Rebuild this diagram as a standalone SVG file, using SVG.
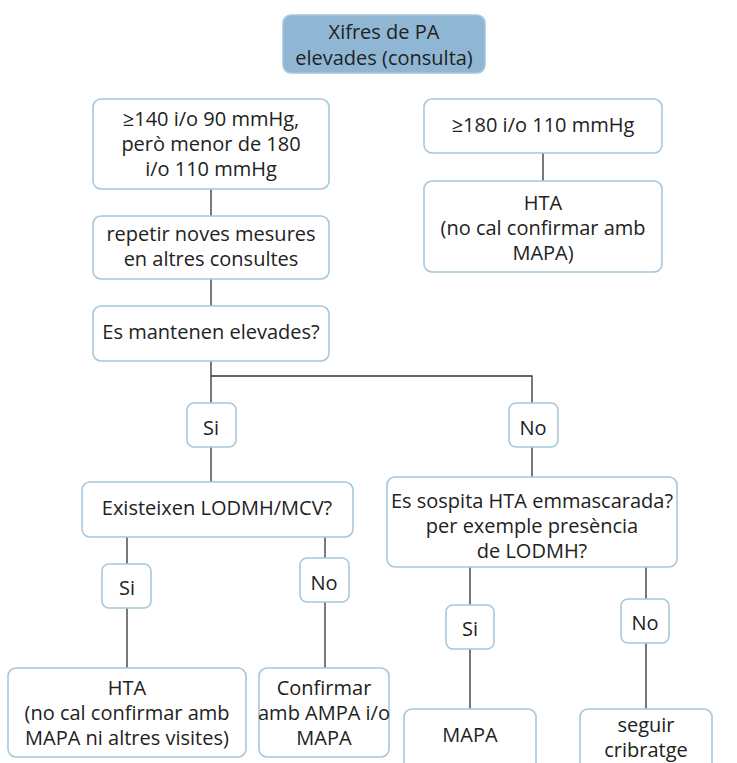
<svg xmlns="http://www.w3.org/2000/svg" width="737" height="763" viewBox="0 0 737 763">
<style>
.b{fill:#fff;stroke:#a7c7dd;stroke-width:1.6}
.h{fill:#8fb7d4;stroke:#a7c7dd;stroke-width:1.6}
.t{font-family:"Open Sans","Noto Sans",sans-serif;font-size:20px;fill:#222;text-anchor:middle;dominant-baseline:central}
.c{stroke:#333;stroke-width:1.3;fill:none}
</style>
<rect width="737" height="763" fill="#fff"/>
<g id="connectors">
<path class="c" d="M211 189V216M211 279V306M211 361V403M211 376H532V403M211 447V482M532 447V477M543 153V181"/>
<path class="c" d="M127 537V564M127 608V668M325 537V558M325 602V668M470 567V605M470 649V709M646 567V599M646 643V709"/>
</g>
<g id="n0"><rect class="h" x="283" y="15" width="202" height="58" rx="8"/><text class="t" x="384" y="31">Xifres de PA</text><text class="t" x="384" y="57">elevades (consulta)</text></g>
<g id="n1"><rect class="b" x="93" y="99" width="236" height="90" rx="8"/><text class="t" x="211" y="118">≥140 i/o 90 mmHg,</text><text class="t" x="211" y="143">però menor de 180</text><text class="t" x="211" y="168">i/o 110 mmHg</text></g>
<g id="n2"><rect class="b" x="93" y="216" width="236" height="63" rx="8"/><text class="t" x="211" y="233">repetir noves mesures</text><text class="t" x="211" y="258">en altres consultes</text></g>
<g id="n3"><rect class="b" x="424" y="99" width="238" height="54" rx="8"/><text class="t" x="543" y="124">≥180 i/o 110 mmHg</text></g>
<g id="n4"><rect class="b" x="424" y="181" width="238" height="91" rx="8"/><text class="t" x="543" y="202">HTA</text><text class="t" x="543" y="227">(no cal confirmar amb</text><text class="t" x="543" y="252">MAPA)</text></g>
<g id="n5"><rect class="b" x="93" y="306" width="236" height="55" rx="8"/><text class="t" x="211" y="331">Es mantenen elevades?</text></g>
<g id="n6"><rect class="b" x="187" y="403" width="49" height="44" rx="7"/><text class="t" x="211" y="427">Si</text></g>
<g id="n7"><rect class="b" x="509" y="403" width="49" height="44" rx="7"/><text class="t" x="533" y="427">No</text></g>
<g id="n8"><rect class="b" x="82" y="482" width="271" height="55" rx="8"/><text class="t" x="217" y="507">Existeixen LODMH/MCV?</text></g>
<g id="n9"><rect class="b" x="387" y="477" width="290" height="90" rx="8"/><text class="t" x="532" y="500" font-size="19">Es sospita HTA emmascarada?</text><text class="t" x="532" y="525">per exemple presència</text><text class="t" x="532" y="550">de LODMH?</text></g>
<g id="n10"><rect class="b" x="102" y="564" width="49" height="44" rx="7"/><text class="t" x="127" y="587">Si</text></g>
<g id="n11"><rect class="b" x="300" y="558" width="49" height="44" rx="7"/><text class="t" x="324" y="582">No</text></g>
<g id="n12"><rect class="b" x="446" y="605" width="48" height="44" rx="7"/><text class="t" x="470" y="628">Si</text></g>
<g id="n13"><rect class="b" x="621" y="599" width="48" height="44" rx="7"/><text class="t" x="645" y="622">No</text></g>
<g id="n14"><rect class="b" x="8" y="668" width="238" height="89" rx="8"/><text class="t" x="127" y="687">HTA</text><text class="t" x="127" y="712">(no cal confirmar amb</text><text class="t" x="127" y="737">MAPA ni altres visites)</text></g>
<g id="n15"><rect class="b" x="259" y="668" width="130" height="89" rx="8"/><text class="t" x="324" y="687">Confirmar</text><text class="t" x="324" y="712">amb AMPA i/o</text><text class="t" x="324" y="737">MAPA</text></g>
<g id="n16"><rect class="b" x="404" y="709" width="132" height="70" rx="8"/><text class="t" x="470" y="734">MAPA</text></g>
<g id="n17"><rect class="b" x="580" y="709" width="132" height="70" rx="8"/><text class="t" x="646" y="724">seguir</text><text class="t" x="646" y="749">cribratge</text></g>
</svg>
